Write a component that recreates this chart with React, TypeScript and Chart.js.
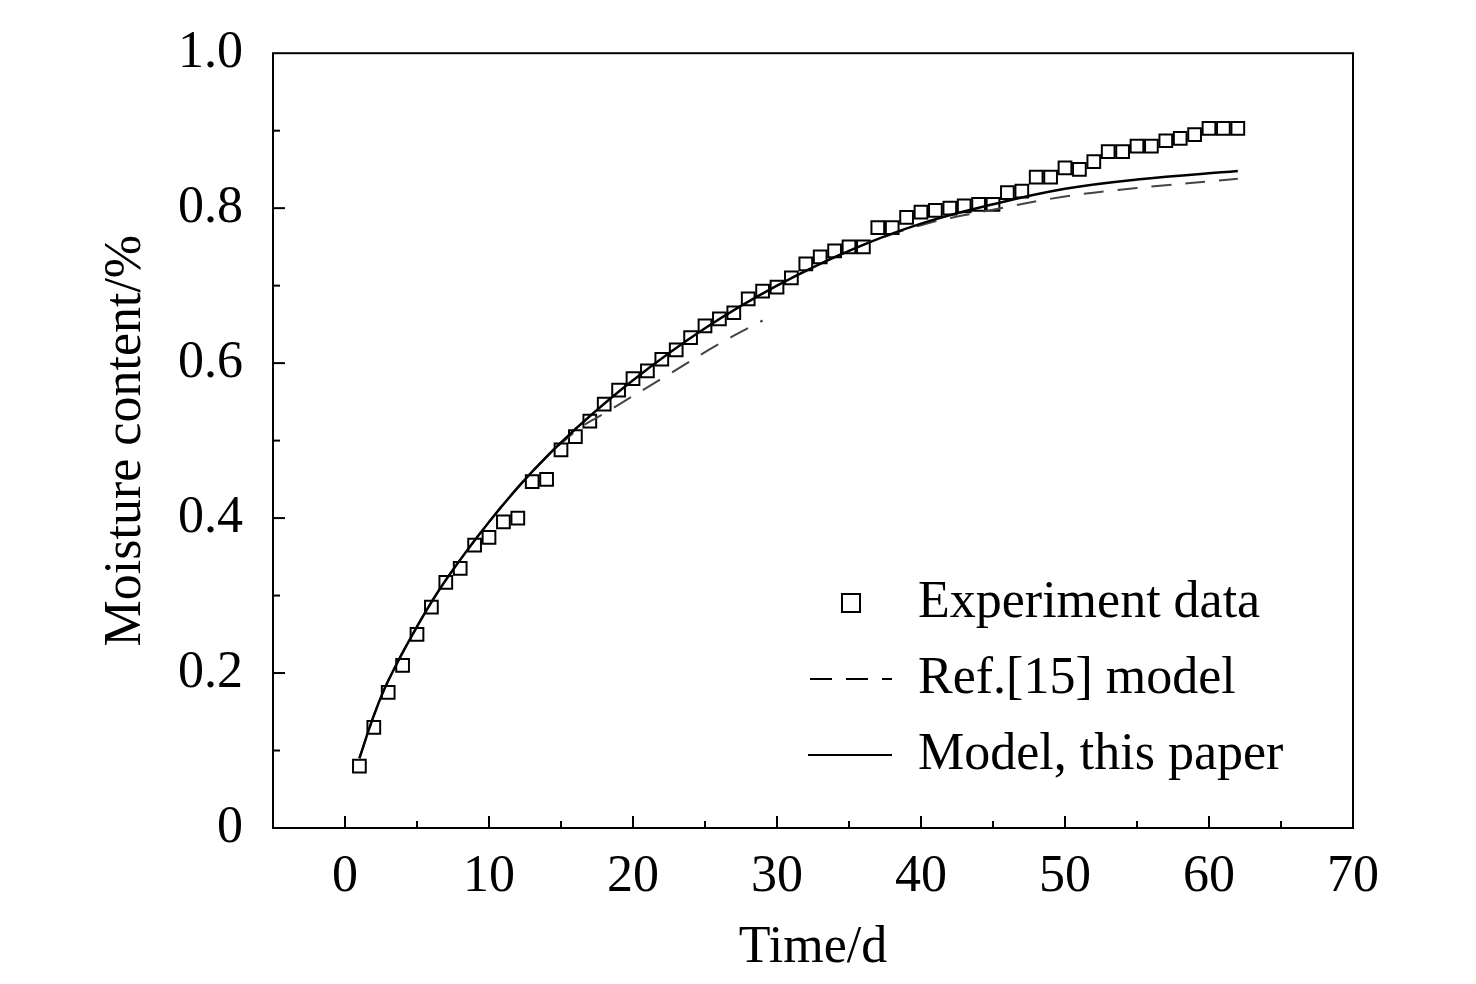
import React, { useEffect, useRef } from "react";
import { Chart, registerables } from "chart.js";
Chart.register(...registerables);

const expDays = [1,2,3,4,5,6,7,8,9,10,11,12,13,14,15,16,17,18,19,20,21,22,23,24,25,26,27,28,29,30,31,32,33,34,35,36,37,38,39,40,41,42,43,44,45,46,47,48,49,50,51,52,53,54,55,56,57,58,59,60,61,62];
const expVals = [0.08,0.13,0.175,0.21,0.25,0.285,0.317,0.335,0.365,0.375,0.395,0.40,0.447,0.45,0.488,0.505,0.525,0.547,0.565,0.58,0.59,0.605,0.617,0.633,0.648,0.657,0.665,0.683,0.693,0.698,0.71,0.728,0.737,0.745,0.75,0.75,0.775,0.775,0.788,0.795,0.797,0.80,0.803,0.805,0.805,0.82,0.822,0.84,0.84,0.852,0.85,0.86,0.873,0.873,0.88,0.88,0.887,0.89,0.895,0.903,0.903,0.903];
const modelDays = [1,2,3,5,7,10,13,16,20,25,30,35,40,45,50,55,62];
const modelVals = [0.09,0.145,0.19,0.26,0.32,0.395,0.46,0.515,0.578,0.645,0.70,0.745,0.78,0.805,0.825,0.837,0.848];
const refDays = [1,2,3,5,7,10,13,16,18,22,26,29,30,31,35,40,45,50,55,62];
const refVals: (number | null)[] = [0.09,0.145,0.19,0.26,0.32,0.395,0.46,0.512,0.535,0.58,0.625,0.655,null,0.71,0.745,0.778,0.798,0.815,0.826,0.838];
const legendLabels = ["Experiment data", "Ref.[15] model", "Model, this paper"];

const FONT = "'Liberation Serif', 'Times New Roman', serif";
const FS = 52;

export default function App() {
  const ref = useRef<HTMLCanvasElement>(null);
  useEffect(() => {
    document.body.style.margin = "0";
    const deco = {
      id: "deco",
      afterDraw(c: any) {
        const { ctx, chartArea: a, scales } = c;
        ctx.save();
        ctx.strokeStyle = "#000";
        ctx.lineWidth = 2;
        ctx.strokeRect(a.left, a.top, a.right - a.left, a.bottom - a.top);
        for (let v = 0; v <= 65; v += 5) {
          const x = scales.x.getPixelForValue(v);
          const len = v % 10 === 0 ? 12 : 7;
          ctx.beginPath(); ctx.moveTo(x, a.bottom); ctx.lineTo(x, a.bottom - len); ctx.stroke();
        }
        for (let i = 1; i < 10; i++) {
          const y = scales.y.getPixelForValue(i / 10);
          const len = i % 2 === 0 ? 12 : 7;
          ctx.beginPath(); ctx.moveTo(a.left, y); ctx.lineTo(a.left + len, y); ctx.stroke();
        }
        ctx.font = `${FS}px ${FONT}`;
        ctx.fillStyle = "#000";
        ctx.textBaseline = "middle";
        const ys = [603, 679, 755];
        ctx.strokeRect(842, ys[0] - 9, 18, 18);
        ctx.setLineDash([22, 14]);
        ctx.beginPath(); ctx.moveTo(810, ys[1]); ctx.lineTo(892, ys[1]); ctx.stroke();
        ctx.setLineDash([]);
        ctx.beginPath(); ctx.moveTo(808, ys[2]); ctx.lineTo(892, ys[2]); ctx.stroke();
        legendLabels.forEach((t, i) => ctx.fillText(t, 918, ys[i]));
        ctx.restore();
      },
    };
    const chart = new Chart(ref.current!, {
      type: "scatter",
      data: {
        datasets: [
          {
            label: legendLabels[2],
            data: modelDays.map((d, i) => ({ x: d, y: modelVals[i] })),
            showLine: true, borderColor: "#000", borderWidth: 2.5, pointRadius: 0, tension: 0.4,
          },
          {
            label: legendLabels[1],
            data: refDays.map((d, i) => ({ x: d, y: refVals[i] as any })),
            showLine: true, borderColor: "#444", borderWidth: 2, borderDash: [20, 14], pointRadius: 0, tension: 0.4, spanGaps: false,
          },
          {
            label: legendLabels[0],
            data: expDays.map((d, i) => ({ x: d, y: expVals[i] })),
            pointStyle: "rect", pointRadius: 9, borderColor: "#000", borderWidth: 2, backgroundColor: "rgba(0,0,0,0)",
          },
        ] as any,
      },
      options: {
        animation: false,
        responsive: false,
        layout: { padding: { top: 0, right: 123, left: 0, bottom: 0 } },
        plugins: { legend: { display: false }, tooltip: { enabled: false } },
        scales: {
          x: {
            type: "linear", min: -5, max: 70,
            afterFit: (s: any) => { s.height = 156; },
            grid: { display: false }, border: { display: false },
            ticks: { stepSize: 5, color: "#000", font: { family: FONT, size: FS }, padding: 10, maxRotation: 0,
              callback: (v: any) => (v % 10 === 0 && v >= 0 ? String(v) : "") },
            title: { display: true, text: "Time/d", color: "#000", font: { family: FONT, size: FS }, padding: { top: 0 } },
          },
          y: {
            min: 0, max: 1,
            afterFit: (s: any) => { s.width = 273; },
            grid: { display: false }, border: { display: false },
            ticks: { stepSize: 0.1, color: "#000", font: { family: FONT, size: FS }, padding: 22,
              callback: (v: any) => { const k = Math.round(v * 10); if (k % 2) return ""; return k === 0 ? "0" : (k / 10).toFixed(1); } },
            title: { display: true, text: "Moisture content/%", color: "#000", font: { family: FONT, size: FS }, padding: { top: 95, bottom: 0 } },
          },
        },
      } as any,
      plugins: [deco],
    });
    return () => chart.destroy();
  }, []);
  return <canvas ref={ref} width={1476} height={984} style={{ display: "block" }} />;
}
